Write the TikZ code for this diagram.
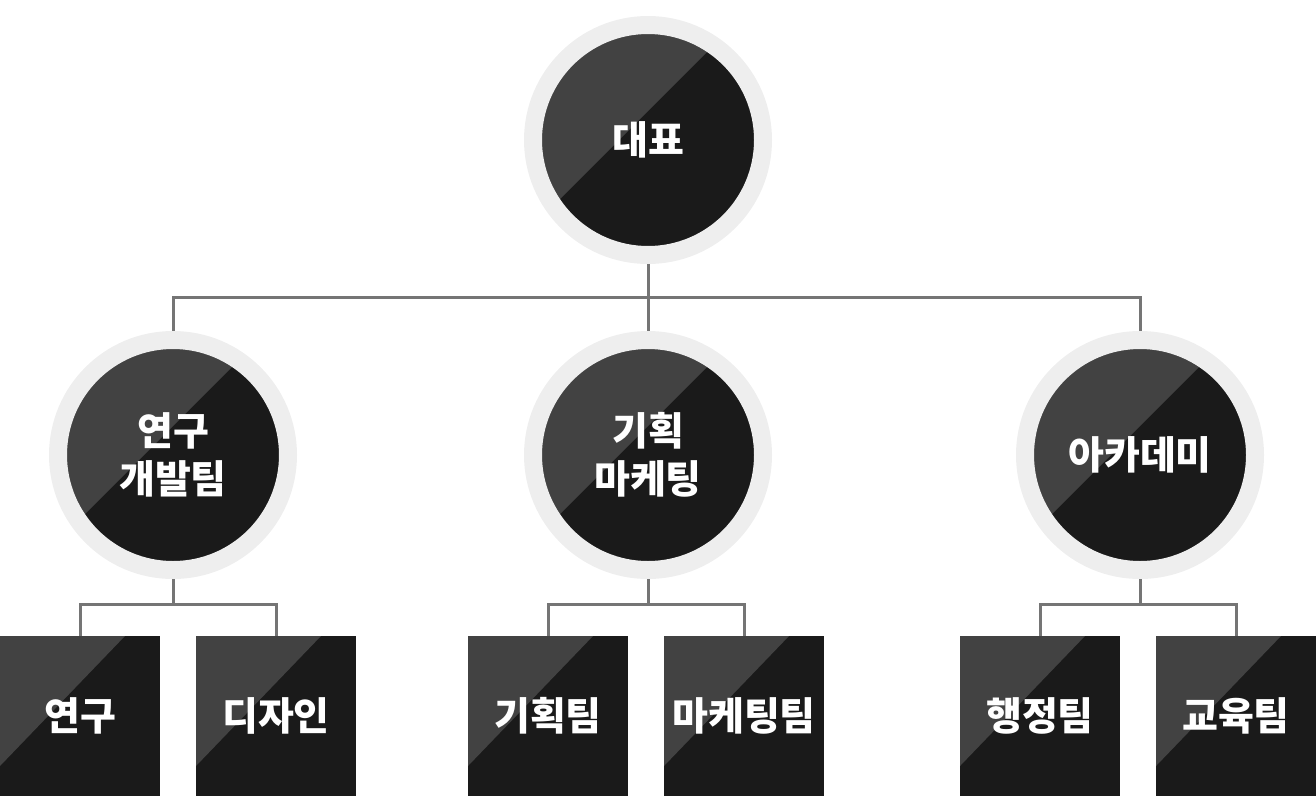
\documentclass[tikz,border=0pt]{standalone}
\usepackage{fontspec}
\newfontfamily\kr{Noto Sans CJK KR}
\usetikzlibrary{positioning}

\definecolor{ringgray}{HTML}{EEEEEE}
\definecolor{lightpart}{HTML}{424242}
\definecolor{darkpart}{HTML}{1A1A1A}
\definecolor{linkgray}{HTML}{757575}

\tikzset{
  hub/.style={circle, inner sep=0pt, minimum size=230pt, fill=darkpart,
    draw=ringgray, line width=18pt, text=white, align=center,
    font=\kr\bfseries\fontsize{39}{48}\selectfont,
    path picture={\fill[lightpart] (path picture bounding box.center) ++(127,156)
      -- ++(-283,-283) -- ++(-200,200) -- ++(283,283) -- cycle;}},
  team/.style={rectangle, inner sep=0pt, outer sep=0pt, minimum width=160pt,
    minimum height=160pt, fill=darkpart, text=white,
    font=\kr\bfseries\fontsize{39}{48}\selectfont,
    path picture={\fill[lightpart] (path picture bounding box.north west)
      -- ++(125,0) -- ++(-125,-130) -- cycle;}},
  link/.style={draw=linkgray, line width=3pt}
}

\begin{document}
\begin{tikzpicture}[x=1pt, y=1pt, node distance=196pt]
	\useasboundingbox (0,0) rectangle (1316,-796);

	\node[hub]  (ceo)  at (648,-140)  {대표};
	\node[hub]  (rnd)  at (173,-455)  {연구\\개발팀};
	\node[hub]  (plan) at (648,-455)  {기획\\마케팅};
	\node[hub]  (acad) at (1140,-455) {아카데미};

	\node[team] (research) at (80,-716)         {연구};
	\node[team] (design)   [right of=research]  {디자인};
	\node[team] (planteam) at (548,-716)        {기획팀};
	\node[team] (mkt)      [right of=planteam]  {마케팅팀};
	\node[team] (admin)    at (1040,-716)       {행정팀};
	\node[team] (edu)      [right of=admin]     {교육팀};

	\draw[link]
			(ceo.south) -- ++(0,-33) -| (rnd.north)
			(ceo.south) -- (plan.north)
			(ceo.south) -- ++(0,-33) -| (acad.north);
	\draw[link]
			(rnd.south) -- ++(0,-25) -| (research.north)
			(rnd.south) -- ++(0,-25) -| (design.north)
			(plan.south) -- ++(0,-25) -| (planteam.north)
			(plan.south) -- ++(0,-25) -| (mkt.north)
			(acad.south) -- ++(0,-25) -| (admin.north)
			(acad.south) -- ++(0,-25) -| (edu.north);
\end{tikzpicture}
\end{document}
